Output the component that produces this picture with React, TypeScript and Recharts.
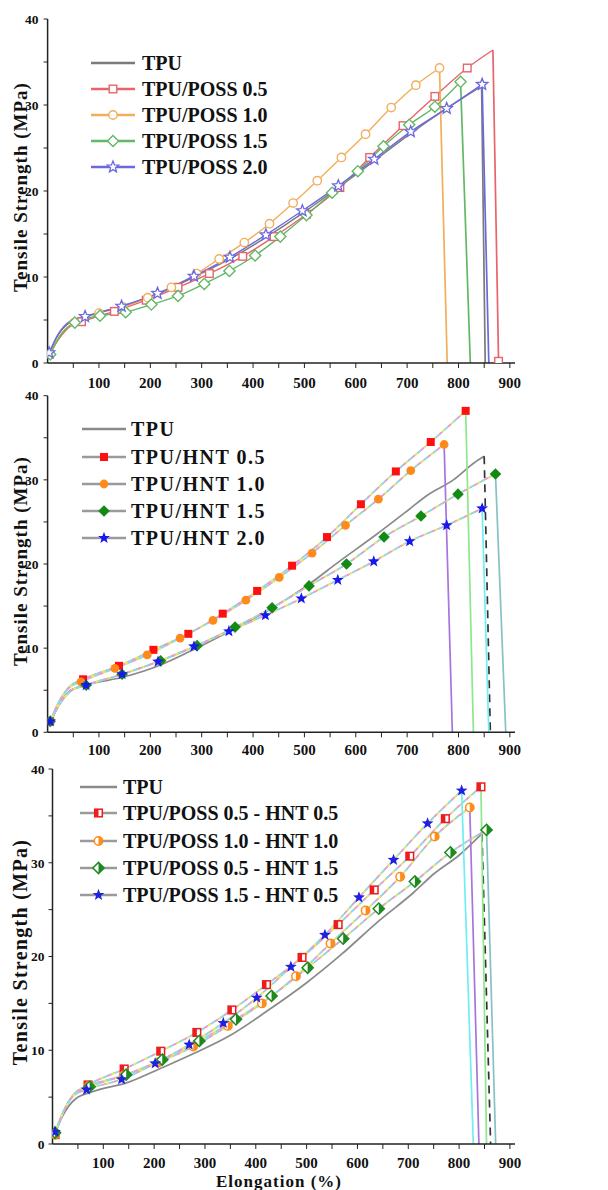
import React from "react";
import { ComposedChart, Line, Scatter, XAxis, YAxis } from "recharts";

type Pt = [number, number];

const serif = "'Liberation Serif', 'Times New Roman', serif";

// shared axis ticks
const xTicks = [50, 100, 150, 200, 250, 300, 350, 400, 450, 500, 550, 600, 650, 700, 750, 800, 850, 900];
const yTicks = [0, 5, 10, 15, 20, 25, 30, 35, 40];

// ---------- panel 1 : TPU / POSS ----------
const possNames = ["TPU", "TPU/POSS 0.5", "TPU/POSS 1.0", "TPU/POSS 1.5", "TPU/POSS 2.0"];
const possTpuCurve: Pt[] = [[3, 1.0], [20, 3.2], [45, 4.8], [73, 5.4], [144, 6.6], [214, 8.0], [285, 10.0], [355, 12.1], [425, 14.6], [496, 17.4], [566, 20.4], [636, 23.5], [707, 26.7], [777, 29.6], [845, 32.2], [852, 0]];
const poss05Marks: Pt[] = [[3, 1.0], [66, 4.8], [130, 6.0], [192, 7.3], [254, 8.8], [315, 10.4], [380, 12.4], [441, 14.7], [504, 17.3], [569, 20.4], [627, 23.9], [692, 27.6], [754, 31.0], [817, 34.3], [878, 0.2]];
const poss05Extra: Pt[] = [[22, 2.8], [45, 4.3], [867, 36.4]];
const poss10Marks: Pt[] = [[5, 1.0], [52, 4.7], [100, 5.8], [147, 6.5], [195, 7.6], [241, 8.8], [290, 10.4], [334, 12.1], [383, 14.0], [432, 16.2], [478, 18.6], [525, 21.2], [572, 23.9], [619, 26.6], [669, 29.7], [717, 32.3], [763, 34.3]];
const poss10Extra: Pt[] = [[25, 3.3], [778, 0]];
const poss15Marks: Pt[] = [[5, 1.0], [53, 4.7], [102, 5.5], [152, 5.9], [202, 6.8], [254, 7.8], [305, 9.2], [354, 10.7], [404, 12.5], [453, 14.7], [504, 17.2], [554, 19.8], [604, 22.3], [654, 25.2], [704, 27.7], [754, 29.8], [804, 32.7]];
const poss15Extra: Pt[] = [[25, 3.2], [823, 0]];
const poss20Marks: Pt[] = [[3, 1.2], [73, 5.4], [144, 6.6], [214, 8.1], [285, 10.1], [355, 12.3], [425, 14.9], [496, 17.7], [566, 20.6], [636, 23.7], [707, 26.9], [777, 29.6], [846, 32.4]];
const poss20Extra: Pt[] = [[20, 3.3], [45, 4.9], [859, 0]];

// ---------- panel 2 : TPU / HNT ----------
const hntNames = ["TPU", "TPU/HNT 0.5", "TPU/HNT 1.0", "TPU/HNT 1.5", "TPU/HNT 2.0"];
const hntTpuCurve: Pt[] = [[3, 0.8], [20, 3.0], [45, 5.0], [80, 5.7], [150, 6.6], [220, 8.0], [290, 10.0], [360, 12.2], [430, 14.5], [500, 17.2], [570, 20.4], [640, 23.5], [700, 26.3], [740, 28.2], [790, 30.0], [830, 32.0], [850, 32.8], [862, 0]];
const hnt05Marks: Pt[] = [[5, 1.3], [69, 6.3], [139, 7.9], [206, 9.8], [274, 11.7], [341, 14.1], [408, 16.8], [476, 19.8], [544, 23.2], [610, 27.1], [678, 31.0], [746, 34.5], [814, 38.2]];
const hnt05Extra: Pt[] = [[22, 3.6], [42, 5.4], [829, 0]];
const hnt10Marks: Pt[] = [[5, 1.3], [65, 6.0], [131, 7.6], [194, 9.2], [258, 11.2], [322, 13.3], [386, 15.7], [451, 18.4], [515, 21.3], [580, 24.6], [644, 27.7], [707, 31.1], [772, 34.2]];
const hnt10Extra: Pt[] = [[22, 3.6], [42, 5.3], [788, 0]];
const hnt15Marks: Pt[] = [[5, 1.3], [75, 5.6], [145, 6.9], [220, 8.5], [291, 10.3], [365, 12.5], [437, 14.8], [509, 17.4], [582, 20.0], [655, 23.2], [727, 25.7], [799, 28.3], [872, 30.7]];
const hnt15Extra: Pt[] = [[22, 3.2], [45, 4.9], [892, 0]];
const hnt20Marks: Pt[] = [[5, 1.3], [75, 5.6], [145, 6.9], [215, 8.4], [285, 10.2], [353, 12.0], [424, 13.9], [494, 15.9], [565, 18.1], [635, 20.3], [705, 22.7], [777, 24.6], [846, 26.6]];
const hnt20Extra: Pt[] = [[22, 3.2], [45, 4.9], [859, 0]];

// ---------- panel 3 : TPU / POSS - HNT ----------
const hybNames = ["TPU", "TPU/POSS 0.5 - HNT 0.5", "TPU/POSS 1.0 - HNT 1.0", "TPU/POSS 0.5 - HNT 1.5", "TPU/POSS 1.5 - HNT 0.5"];
const hybTpuCurve: Pt[] = [[3, 0.8], [20, 3.0], [45, 4.8], [80, 5.6], [150, 6.6], [210, 8.0], [280, 9.7], [350, 11.6], [420, 14.1], [500, 17.2], [570, 20.3], [640, 23.7], [710, 26.8], [750, 28.8], [800, 30.8], [845, 33.1], [862, 0]];
const hybAMarks: Pt[] = [[5, 1.0], [70, 6.3], [141, 8.0], [213, 9.9], [284, 11.9], [353, 14.3], [421, 17.0], [491, 19.9], [562, 23.4], [633, 27.1], [703, 30.7], [773, 34.7], [843, 38.1]];
const hybAExtra: Pt[] = [[22, 3.5], [42, 5.3], [854, 0]];
const hybBMarks: Pt[] = [[5, 1.0], [72, 6.2], [140, 7.3], [208, 8.7], [277, 10.4], [345, 12.6], [412, 15.0], [479, 17.9], [547, 21.4], [616, 24.9], [684, 28.5], [752, 32.8], [821, 35.9]];
const hybBExtra: Pt[] = [[22, 3.5], [42, 5.3], [839, 0]];
const hybCMarks: Pt[] = [[5, 1.2], [73, 6.1], [145, 7.4], [216, 9.0], [289, 11.0], [361, 13.3], [431, 15.8], [502, 18.8], [572, 21.9], [642, 25.1], [713, 28.0], [783, 31.1], [854, 33.5]];
const hybCExtra: Pt[] = [[22, 3.5], [42, 5.3], [872, 0]];
const hybDMarks: Pt[] = [[5, 1.3], [67, 5.8], [136, 6.9], [202, 8.6], [269, 10.6], [336, 12.9], [402, 15.6], [469, 18.9], [536, 22.3], [603, 26.3], [671, 30.3], [738, 34.2], [805, 37.7]];
const hybDExtra: Pt[] = [[22, 3.5], [42, 5.2], [828, 0]];

type Series = {
  name: string;
  marks: Pt[];
  extra: Pt[];
  color: string;
  line: "plain" | "rainbow";
  lineColor: string;
  drop: string;
  dropDash?: string;
  kind: string;
};

const panel1: Series[] = [
  { name: possNames[0], marks: [], extra: possTpuCurve, color: "#7a7a7a", line: "plain", lineColor: "#7a7a7a", drop: "#7a7a7a", kind: "" },
  { name: possNames[1], marks: poss05Marks, extra: poss05Extra, color: "#e8646a", line: "plain", lineColor: "#e8646a", drop: "#e8646a", kind: "oSquare" },
  { name: possNames[2], marks: poss10Marks, extra: poss10Extra, color: "#f2ae5c", line: "plain", lineColor: "#f2ae5c", drop: "#f2ae5c", kind: "oCircle" },
  { name: possNames[3], marks: poss15Marks, extra: poss15Extra, color: "#63b866", line: "plain", lineColor: "#63b866", drop: "#63b866", kind: "oDiamond" },
  { name: possNames[4], marks: poss20Marks, extra: poss20Extra, color: "#6b69e0", line: "plain", lineColor: "#6b69e0", drop: "#6b69e0", kind: "oStar" },
];

const panel2: Series[] = [
  { name: hntNames[0], marks: [], extra: hntTpuCurve, color: "#8a8a8a", line: "plain", lineColor: "#8a8a8a", drop: "#333", dropDash: "8 6", kind: "" },
  { name: hntNames[1], marks: hnt05Marks, extra: hnt05Extra, color: "#ff1010", line: "rainbow", lineColor: "#bdbdbd", drop: "#8de88d", kind: "fSquare" },
  { name: hntNames[2], marks: hnt10Marks, extra: hnt10Extra, color: "#ff8a1c", line: "rainbow", lineColor: "#bdbdbd", drop: "#a874e0", kind: "fCircle" },
  { name: hntNames[3], marks: hnt15Marks, extra: hnt15Extra, color: "#138a13", line: "rainbow", lineColor: "#bdbdbd", drop: "#86c2c4", kind: "fDiamond" },
  { name: hntNames[4], marks: hnt20Marks, extra: hnt20Extra, color: "#1818ee", line: "rainbow", lineColor: "#bdbdbd", drop: "#70eef4", kind: "fStar" },
];

const panel3: Series[] = [
  { name: hybNames[0], marks: [], extra: hybTpuCurve, color: "#8a8a8a", line: "plain", lineColor: "#8a8a8a", drop: "#333", dropDash: "8 6", kind: "" },
  { name: hybNames[1], marks: hybAMarks, extra: hybAExtra, color: "#ee1c1c", line: "rainbow", lineColor: "#bdbdbd", drop: "#8de88d", kind: "hSquare" },
  { name: hybNames[2], marks: hybBMarks, extra: hybBExtra, color: "#ff8c1a", line: "rainbow", lineColor: "#bdbdbd", drop: "#a874e0", kind: "hCircle" },
  { name: hybNames[3], marks: hybCMarks, extra: hybCExtra, color: "#1e8a1e", line: "rainbow", lineColor: "#bdbdbd", drop: "#86c2c4", kind: "hDiamond" },
  { name: hybNames[4], marks: hybDMarks, extra: hybDExtra, color: "#2020e0", line: "rainbow", lineColor: "#bdbdbd", drop: "#70eef4", kind: "fStar" },
];

const toObj = (p: Pt[]) => p.map(([x, y]) => ({ x, y }));

function starPath(cx: number, cy: number, R: number, r: number) {
  let d = "";
  for (let i = 0; i < 10; i++) {
    const a = -Math.PI / 2 + (i * Math.PI) / 5;
    const rad = i % 2 ? r : R;
    d += (i ? "L" : "M") + (cx + rad * Math.cos(a)).toFixed(2) + "," + (cy + rad * Math.sin(a)).toFixed(2);
  }
  return d + "Z";
}

const diamond = (cx: number, cy: number, h: number) =>
  `${cx},${cy - h} ${cx + h},${cy} ${cx},${cy + h} ${cx - h},${cy}`;

function Marker({ kind, cx, cy, color }: any) {
  if (cx == null || cy == null) return null;
  const w = "#fff";
  switch (kind) {
    case "oSquare":
      return <rect x={cx - 3.8} y={cy - 3.8} width={7.6} height={7.6} fill={w} stroke={color} strokeWidth={1.4} />;
    case "oCircle":
      return <circle cx={cx} cy={cy} r={4.2} fill={w} stroke={color} strokeWidth={1.4} />;
    case "oDiamond":
      return <polygon points={diamond(cx, cy, 5.6)} fill={w} stroke={color} strokeWidth={1.4} />;
    case "oStar":
      return <path d={starPath(cx, cy, 6, 2.6)} fill={w} stroke={color} strokeWidth={1.3} />;
    case "fSquare":
      return <rect x={cx - 4} y={cy - 4} width={8} height={8} fill={color} />;
    case "fCircle":
      return <circle cx={cx} cy={cy} r={4.4} fill={color} />;
    case "fDiamond":
      return <polygon points={diamond(cx, cy, 5.8)} fill={color} />;
    case "fStar":
      return <path d={starPath(cx, cy, 6.2, 2.6)} fill={color} />;
    case "hSquare":
      return (
        <g>
          <rect x={cx - 3.8} y={cy - 3.8} width={7.6} height={7.6} fill={w} stroke={color} strokeWidth={1.5} />
          <rect x={cx - 3.8} y={cy - 3.8} width={3.8} height={7.6} fill={color} />
        </g>
      );
    case "hCircle":
      return (
        <g>
          <circle cx={cx} cy={cy} r={4.2} fill={w} stroke={color} strokeWidth={1.5} />
          <path d={`M${cx},${cy - 4.2} A4.2,4.2 0 0,1 ${cx},${cy + 4.2} Z`} fill={color} />
        </g>
      );
    case "hDiamond":
      return (
        <g>
          <polygon points={diamond(cx, cy, 5.6)} fill={w} stroke={color} strokeWidth={1.5} />
          <polygon points={`${cx},${cy - 5.6} ${cx + 5.6},${cy} ${cx},${cy + 5.6}`} fill={color} />
        </g>
      );
    default:
      return null;
  }
}

const rainbow = [
  { c: "#f39ad6", off: 0 },
  { c: "#e8ec62", off: -4 },
  { c: "#7fe4ee", off: -8 },
];

function renderSeries(s: Series, i: number, width: number) {
  const curve = [...s.marks, ...s.extra].sort((a, b) => a[0] - b[0]);
  const body = toObj(curve.slice(0, -1));
  const drop = toObj(curve.slice(-2));
  const out: any[] = [];
  out.push(
    <Line key={`b${i}`} data={body} dataKey="y" type="monotone" stroke={s.lineColor} strokeWidth={width}
      dot={false} activeDot={false} isAnimationActive={false} />
  );
  if (s.line === "rainbow") {
    rainbow.forEach((r, k) =>
      out.push(
        <Line key={`r${i}-${k}`} data={body} dataKey="y" type="monotone" stroke={r.c} strokeWidth={width}
          strokeDasharray="3 9" strokeDashoffset={r.off} dot={false} activeDot={false} isAnimationActive={false} />
      )
    );
  }
  out.push(
    <Line key={`d${i}`} data={drop} dataKey="y" type="linear" stroke={s.drop} strokeWidth={1.7}
      strokeDasharray={s.dropDash} dot={false} activeDot={false} isAnimationActive={false} />
  );
  return out;
}

function Panel({ series, top, height, margin, xMargin, yMargin, lw }: any) {
  const tick = { fontFamily: serif, fontWeight: 700, fontSize: 15, fill: "#111" };
  return (
    <div style={{ position: "absolute", left: 0, top }}>
      <ComposedChart width={608} height={height} margin={margin}>
        <XAxis type="number" dataKey="x" domain={[0, 910]} ticks={xTicks} allowDataOverflow
          tickFormatter={(v: number) => (v % 100 === 0 ? String(v) : "")}
          tick={tick} tickSize={5} tickMargin={xMargin} height={30}
          axisLine={{ stroke: "#222", strokeWidth: 1.5 }} tickLine={{ stroke: "#222" }} />
        <YAxis type="number" dataKey="y" domain={[0, 40]} ticks={yTicks} allowDataOverflow
          tickFormatter={(v: number) => (v % 10 === 0 ? String(v) : "")}
          tick={{ ...tick, fontSize: 13.5 }} tickSize={4} tickMargin={yMargin} width={40}
          axisLine={{ stroke: "#222", strokeWidth: 1.5 }} tickLine={{ stroke: "#222" }} />
        {series.map((s: Series, i: number) => renderSeries(s, i, lw))}
        {series.filter((s: Series) => s.marks.length).map((s: Series, i: number) => (
          <Scatter key={`m${i}`} data={toObj(s.marks)} dataKey="y" isAnimationActive={false}
            shape={(p: any) => <Marker kind={s.kind} cx={p.cx} cy={p.cy} color={s.color} />} />
        ))}
      </ComposedChart>
    </div>
  );
}

function LegendBlock({ series, rows, x1, x2, tx, spacing, plainLegend }: any) {
  return (
    <g>
      {series.map((s: Series, i: number) => {
        const y = rows[i];
        const lc = plainLegend ? s.color : "#9a9a9a";
        return (
          <g key={i}>
            <line x1={x1} x2={x2} y1={y} y2={y} stroke={i === 0 ? s.color : lc} strokeWidth={2.6} />
            <Marker kind={s.kind} cx={(x1 + x2) / 2} cy={y} color={s.color} />
            <text x={tx} y={y + 7} fontFamily={serif} fontWeight={700} fontSize={20} letterSpacing={spacing} fill="#111">
              {s.name}
            </text>
          </g>
        );
      })}
    </g>
  );
}

const yTitle = "Tensile Strength (MPa)";

export default function App() {
  return (
    <div style={{ position: "absolute", left: 0, top: 0, width: 608, height: 1190, background: "#fff", overflow: "hidden" }}>
      <Panel series={panel1} top={0} height={400} margin={{ top: 19, right: 93, left: 7.6, bottom: 7 }} xMargin={9.3} yMargin={5} lw={1.4} />
      <Panel series={panel2} top={380} height={380} margin={{ top: 15.7, right: 93, left: 7.6, bottom: -2.3 }} xMargin={7} yMargin={5} lw={1.7} />
      <Panel series={panel3} top={760} height={430} margin={{ top: 9, right: 93, left: 12.5, bottom: 16 }} xMargin={8.5} yMargin={4} lw={1.7} />
      <svg width={608} height={1190} style={{ position: "absolute", left: 0, top: 0, pointerEvents: "none" }}>
        <LegendBlock series={panel1} rows={[63, 89, 115, 141, 167]} x1={91} x2={135} tx={142} spacing={0} plainLegend />
        <LegendBlock series={panel2} rows={[429, 457, 484, 511, 538]} x1={82} x2={126} tx={131} spacing={1.5} />
        <LegendBlock series={panel3} rows={[787, 813, 841, 868, 895]} x1={80} x2={117} tx={123} spacing={0} />
        {[187, 561, 952].map((cy, i) => (
          <text key={i} x={20} y={cy} transform={`rotate(-90 20 ${cy})`} textAnchor="middle" dominantBaseline="central"
            fontFamily={serif} fontWeight={700} fontSize={i === 2 ? 20 : 19} letterSpacing={i === 2 ? 1.3 : 1}
            fill="#111">
            {yTitle}
          </text>
        ))}
        <text x={279} y={1187} textAnchor="middle" fontFamily={serif} fontWeight={700} fontSize={17} letterSpacing={1} fill="#111">
          Elongation (%)
        </text>
      </svg>
    </div>
  );
}
